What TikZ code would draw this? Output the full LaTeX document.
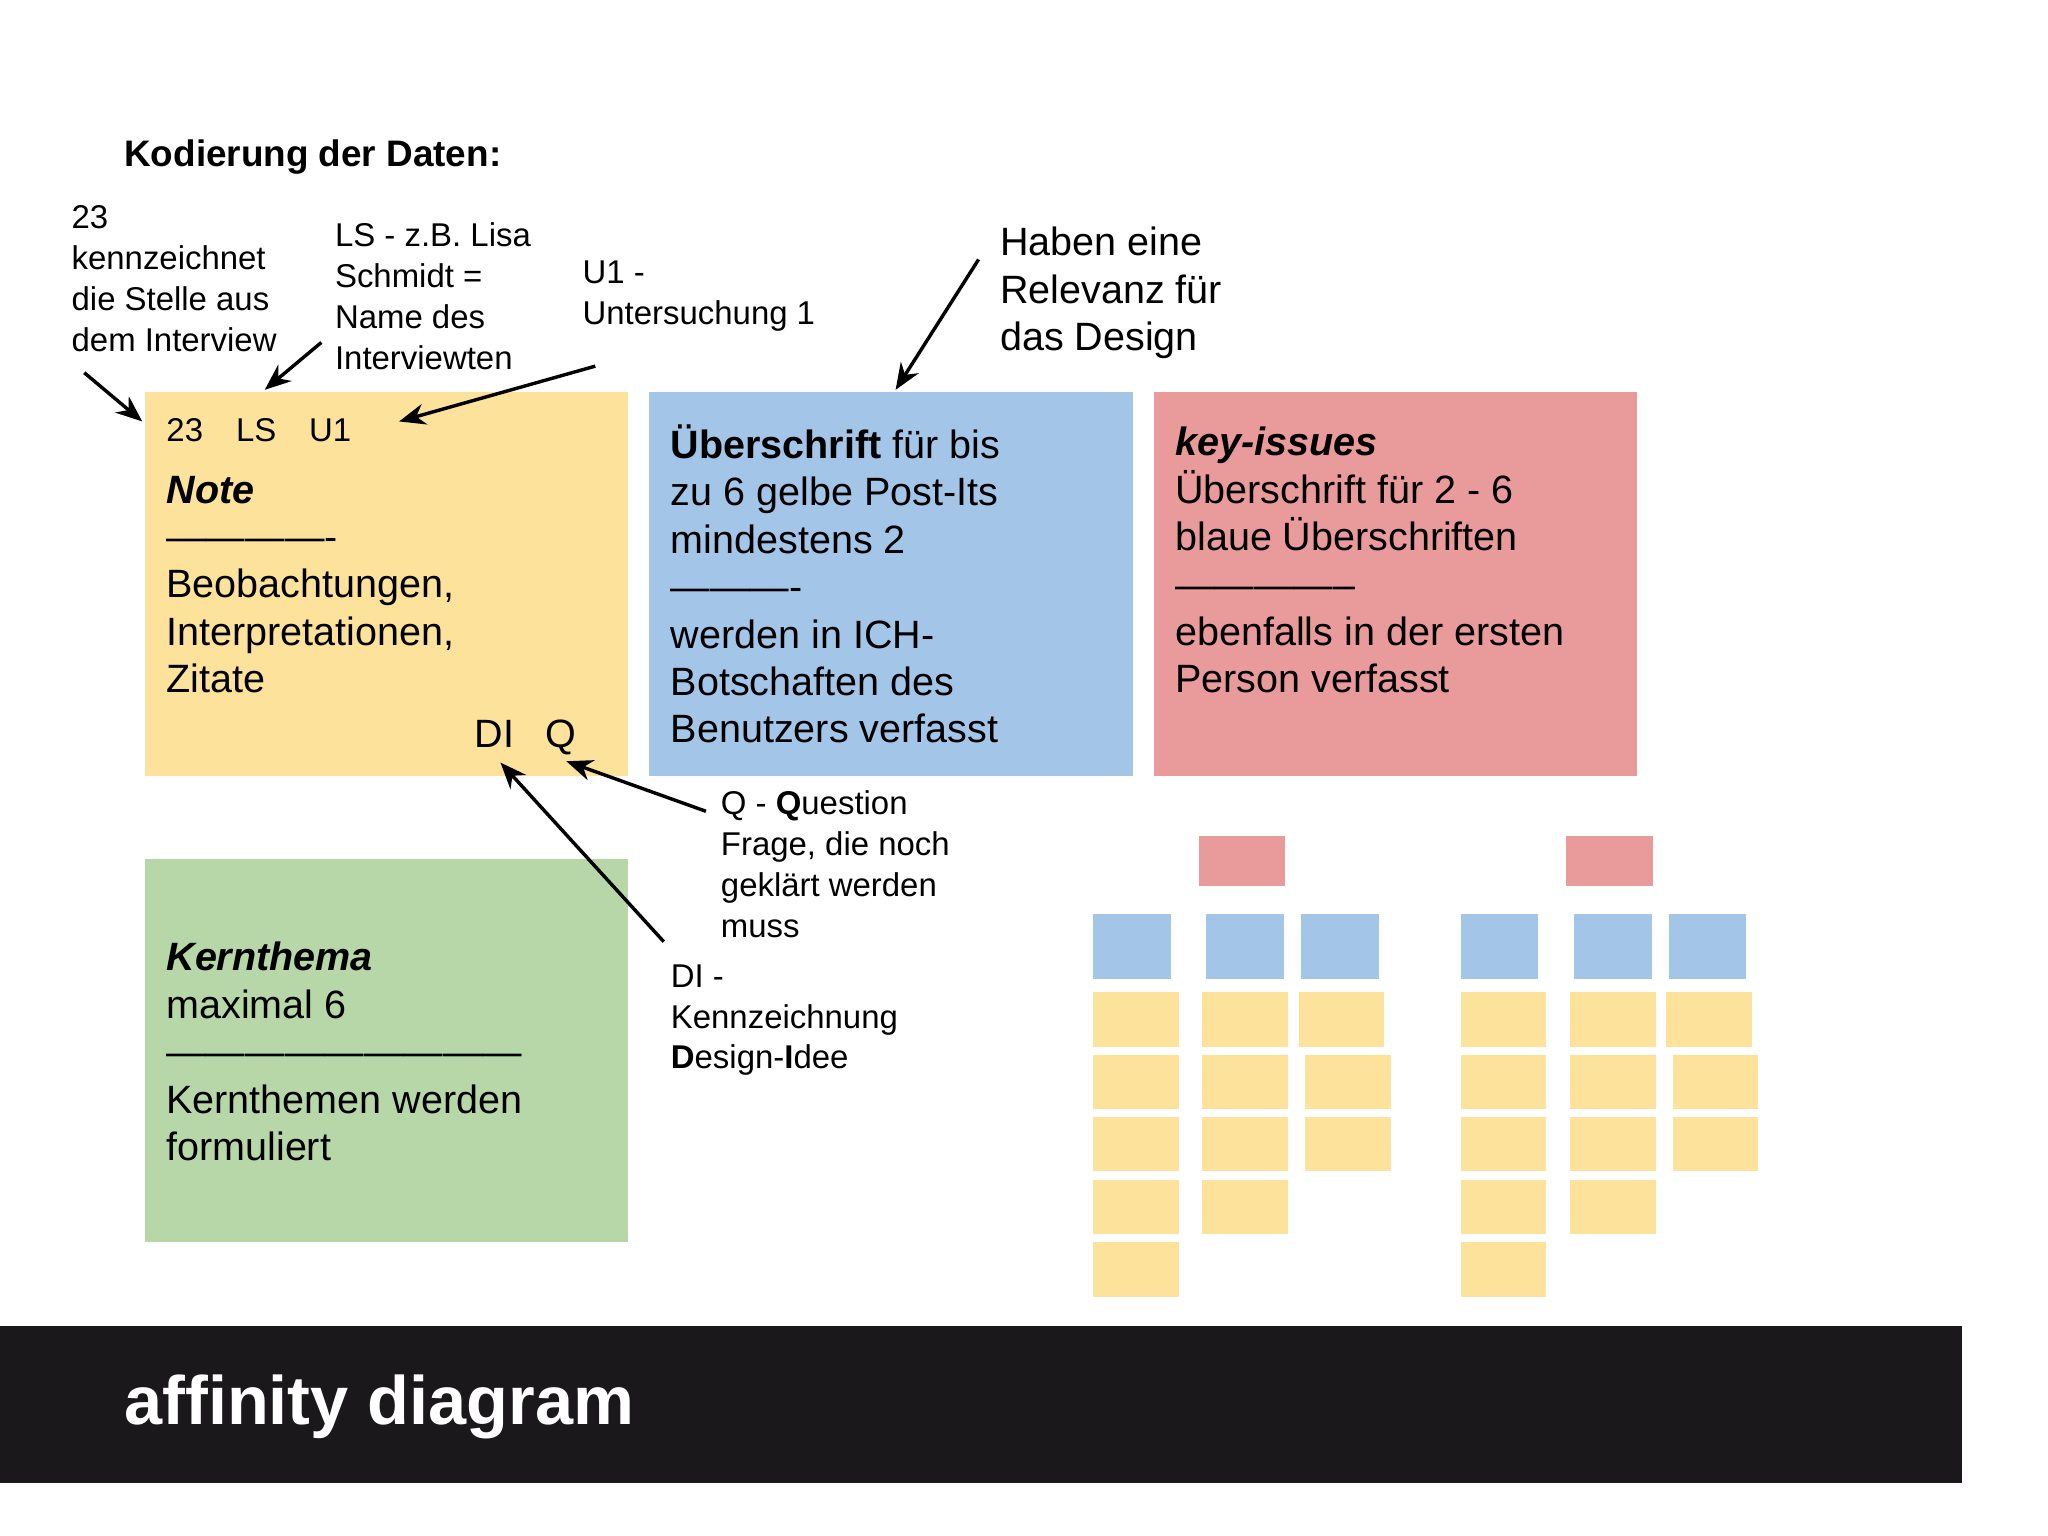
\documentclass[tikz,border=0pt]{standalone}
\usepackage{fontspec}
\setmainfont{Liberation Sans}
\usetikzlibrary{arrows.meta}
\definecolor{py}{HTML}{FDE29C}
\definecolor{pb}{HTML}{A2C5E8}
\definecolor{pr}{HTML}{E99A9B}
\definecolor{pg}{HTML}{B8D7A8}
\definecolor{bar}{HTML}{1A181B}
\begin{document}
\begin{tikzpicture}[x=0.5pt,y=-0.5pt,
  big/.style={font=\fontsize{15}{18}\selectfont,anchor=north west,align=left,inner sep=0pt},
  small/.style={font=\fontsize{12.5}{15.5}\selectfont,anchor=north west,align=left,inner sep=0pt},
  arr/.style={-{Stealth[length=10pt,width=8pt]},line width=1.3pt},
  note/.style={inner sep=0pt,outer sep=0pt}]
\useasboundingbox (0,0) rectangle (1555,1166);
\fill[white] (0,0) rectangle (1555,1166);
% big notes
\fill[py] (110,298) rectangle (477,589);
\fill[pb] (493,298) rectangle (860,589);
\fill[pr] (876,298) rectangle (1243,589);
\fill[pg] (110,652) rectangle (477,943);
% bar
\fill[bar] (0,1007) rectangle (1490,1126);
\node[anchor=west,inner sep=0pt,text=white,font=\fontsize{26}{30}\selectfont\bfseries] (t2) at (94,1068) {affinity diagram};
\node[anchor=west,inner sep=0pt,font=\fontsize{14}{17}\selectfont\bfseries] (t1) at (94,119) {Kodierung der Daten:};
% texts
\node[small] (a23) at (54,156) {23\\kennzeichnet\\die Stelle aus\\dem Interview};
\node[small] (als) at (254,169) {LS - z.B. Lisa\\Schmidt =\\Name des\\Interviewten};
\node[small] (au1) at (442,198) {U1 -\\Untersuchung 1};
\node[big] (ahab) at (759,172) {Haben eine\\Relevanz für\\das Design};
\node[small] (yhead) at (126,317) {23\hspace{1em}LS\hspace{1em}U1};
\node[big] (ytxt) at (126,361) {\textbf{\textit{Note}}\\-------------\\Beobachtungen,\\Interpretationen,\\Zitate};
\node[big,anchor=west] (ydq) at (360,560) {DI\hspace{0.8em}Q};
\node[big] (btxt) at (509,322) {\textbf{Überschrift} für bis\\zu 6 gelbe Post-Its\\mindestens 2\\----------\\werden in ICH-\\Botschaften des\\Benutzers verfasst};
\node[big] (rtxt) at (892,324) {\textbf{\textit{key-issues}}\\Überschrift für 2 - 6\\blaue Überschriften\\--------------\\ebenfalls in der ersten\\Person verfasst};
\node[big] (gtxt) at (126,715) {\textbf{\textit{Kernthema}}\\maximal 6\\---------------------------\\Kernthemen werden\\formuliert};
\node[small] (aq) at (547,600) {Q - \textbf{Q}uestion\\Frage, die noch\\geklärt werden\\muss};
\node[small] (adi) at (509,732) {DI -\\Kennzeichnung\\\textbf{D}esign-\textbf{I}dee};
% arrows
\coordinate (s1) at (64,283); \coordinate (e1) at (108,320);
\coordinate (s2) at (244,260); \coordinate (e2) at (201,296);
\coordinate (s3) at (452,278); \coordinate (e3) at (303,320);
\coordinate (s4) at (743,197); \coordinate (e4) at (680,296);
\coordinate (s5) at (536,616); \coordinate (e5) at (430,578);
\coordinate (s6) at (504,715); \coordinate (e6) at (380,579);
\foreach \i in {1,...,6} \draw[arr] (s\i) -- (e\i);
% mini diagrams
\foreach \dx in {0,279} {
  \begin{scope}[xshift=\dx*0.5pt]
  \fill[pr] (910,635) rectangle (976,673);
  \fill[pb] (830,694) rectangle (889,743);
  \fill[pb] (916,694) rectangle (975,743);
  \fill[pb] (988,694) rectangle (1047,743);
  \foreach \ya/\yb in {753/795,801/842,848/889,896/937,943/985} \fill[py] (830,\ya) rectangle (895,\yb);
  \foreach \ya/\yb in {753/795,801/842,848/889,896/937} \fill[py] (913,\ya) rectangle (978,\yb);
  \fill[py] (986,753) rectangle (1051,795);
  \foreach \ya/\yb in {801/842,848/889} \fill[py] (991,\ya) rectangle (1056,\yb);
  \end{scope}
}
\end{tikzpicture}
\end{document}
